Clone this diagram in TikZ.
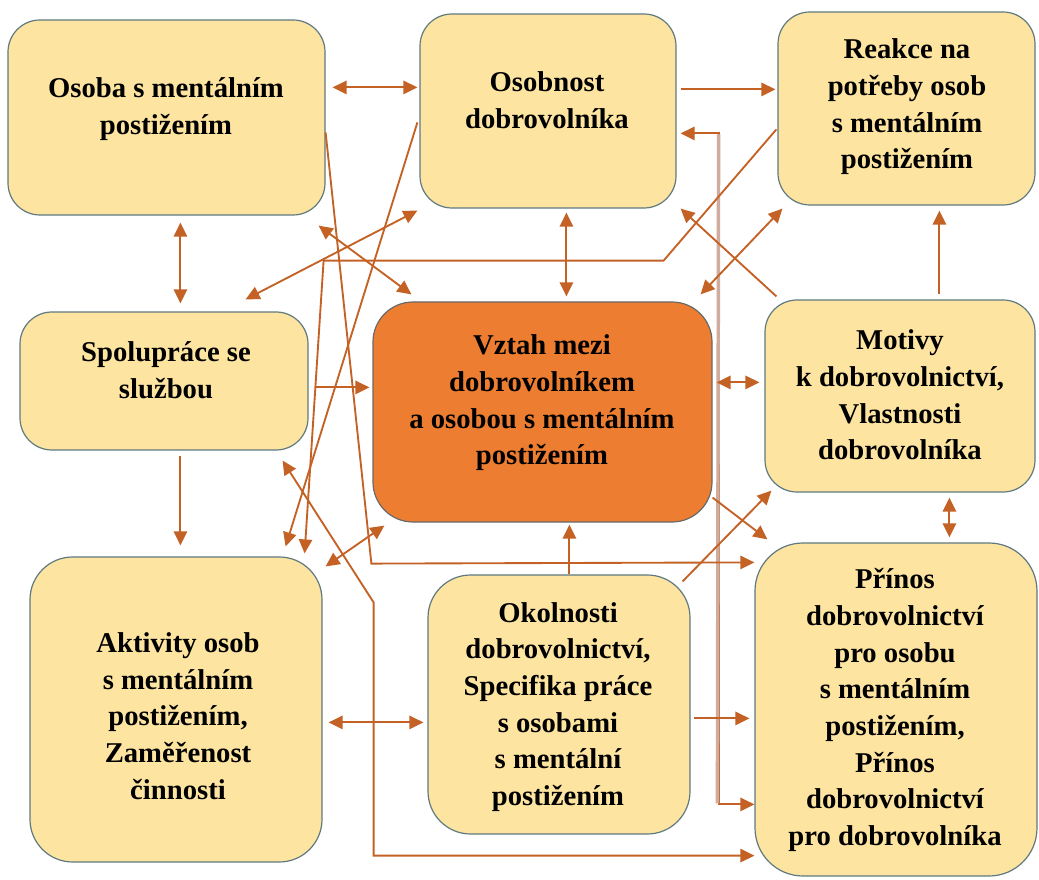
\documentclass[tikz,border=0pt]{standalone}
\usepackage{fontspec}
\newfontfamily\tnr{LiberationSerif}[Extension=.ttf, UprightFont=*-Regular, BoldFont=*-Bold]
\usetikzlibrary{arrows.meta,fit}
\definecolor{boxfill}{RGB}{253,228,160}
\definecolor{boxline}{RGB}{96,122,128}
\definecolor{corefill}{RGB}{237,125,49}
\definecolor{coreline}{RGB}{105,105,105}
\definecolor{conncol}{RGB}{196,98,38}
\definecolor{vlightcol}{RGB}{208,172,158}
\tikzset{
  box/.style={draw=boxline, fill=boxfill, line width=0.9pt, rounded corners=24pt, inner sep=0pt},
  core/.style={box, fill=corefill, draw=coreline, rounded corners=30pt},
  lbl/.style={font=\tnr\bfseries\fontsize{21.5}{27.5}\selectfont, align=center, text=black, inner sep=0pt},
  conn/.style={draw=conncol, line width=1.4pt},
  one/.style={conn, -{Triangle[length=10.5pt,width=10pt]}},
  two/.style={conn, {Triangle[length=10.5pt,width=10pt]}-{Triangle[length=10.5pt,width=10pt]}},
}
\begin{document}
\begin{tikzpicture}[x=0.75pt,y=-0.75pt]
\useasboundingbox (0,0) rectangle (1039,880);
\fill[white] (0,0) rectangle (1039,880);

% boxes
\node[box, fit={(8,20) (325,215)}] (osoba) {};
\node[box, fit={(420,14) (676,208)}] (osobnost) {};
\node[box, fit={(778,12) (1035,205)}] (reakce) {};
\node[box, fit={(20,312) (308,450)}] (spol) {};
\node[core, fit={(373,302) (712,522)}] (vztah) {};
\node[box, fit={(765,300) (1035,492)}] (motivy) {};
\node[box, rounded corners=32pt, fit={(30,557) (322,862)}] (aktivity) {};
\node[box, rounded corners=32pt, fit={(428,575) (690,834)}] (okol) {};
\node[box, rounded corners=36pt, fit={(755,543) (1037,876)}] (prinos) {};

% texts
\node[lbl] (osobaT) at (166,109) {Osoba s mentálním\\postižením};
\node[lbl] (osobnostT) at (547,100) {Osobnost\\dobrovolníka};
\node[lbl] (reakceT) at (907,107) {Reakce na\\potřeby osob\\s mentálním\\postižením};
\node[lbl] (spolT) at (166,370) {Spolupráce se\\službou};
\node[lbl] (vztahT) at (542,403) {Vztah mezi\\dobrovolníkem\\a osobou s mentálním\\postižením};
\node[lbl] (motivyT) at (900,395) {Motivy\\k dobrovolnictví,\\Vlastnosti\\dobrovolníka};
\node[lbl] (aktivityT) at (178,716) {Aktivity osob\\s mentálním\\postižením,\\Zaměřenost\\činnosti};
\begin{scope}
\clip (428,575) rectangle (690,812);
\node[lbl] (okolT) at (558,707) {Okolnosti\\dobrovolnictví,\\Specifika práce\\s osobami\\s mentální\\postižením};
\end{scope}
\node[lbl] (prinosT) at (895,710) {Přínos\\dobrovolnictví\\pro osobu\\s mentálním\\postižením,\\Přínos\\dobrovolnictví\\pro dobrovolníka};

% connectors
\draw[two] ([shift={(7,68)}]osoba.north east) -- ([shift={(-2,74)}]osobnost.north west);
\draw[one] ([shift={(4,76)}]osobnost.north east) -- ([shift={(-2,78)}]reakce.north west);
\draw[two] ([shift={(4,120)}]osobnost.north east) -- ++(38,0) |- ([shift={(0,262)}]prinos.north west);
\draw[draw=vlightcol, line width=2.6pt] ([shift={(42,121)}]osobnost.north east) -- ([shift={(-37,261)}]prinos.north west);
\draw[two] ([shift={(147,4)}]osobnost.south west) -- ([shift={(194,-5)}]vztah.north west);
\draw[two] ([shift={(173,7)}]osoba.south west) -- ([shift={(161,-8)}]spol.north west);
\draw[one] ([shift={(161,5)}]spol.south west) -- ([shift={(151,-11)}]aktivity.north west);
\draw[one] ([shift={(7,76)}]spol.north east) -- ([shift={(-3,86)}]vztah.north west);
\draw[two] ([shift={(4,81)}]vztah.north east) -- ([shift={(-5,83)}]motivy.north west);
\draw[one] ([shift={(175,-5)}]motivy.north west) -- ([shift={(162,5)}]reakce.south west);
\draw[two] ([shift={(185,5)}]motivy.south west) -- ([shift={(195,-5)}]prinos.north west);
\draw[one] ([shift={(142,0)}]okol.north west) -- ([shift={(197,2)}]vztah.south west);
\draw[two] ([shift={(6,166)}]aktivity.north east) -- ([shift={(-4,148)}]okol.north west);
\draw[one] ([shift={(3,144)}]okol.north east) -- ([shift={(-5,176)}]prinos.north west);
\draw[two] ([shift={(-26,10)}]spol.south east) -- ([shift={(51,46)}]aktivity.north east) |- ([shift={(0,-21)}]prinos.south west);
\draw[one] ([shift={(0,113)}]osoba.north east) -- ([shift={(-1,41)}]vztah.south west) -- ([shift={(0,20)}]prinos.north west);
\draw[one] ([shift={(-2,109)}]osobnost.north west) -- ([shift={(-37,-10)}]aktivity.north east);
\draw[one] ([shift={(-1,118)}]reakce.north west) -- ([shift={(-13,52)}]osobnost.south east) -- ([shift={(-2,45)}]osoba.south east) -- ([shift={(-18,-3)}]aktivity.north east);
\draw[two] ([shift={(-7,10)}]osoba.south east) -- ([shift={(39,-7)}]vztah.north west);
\draw[two] ([shift={(-63,-12)}]spol.north east) -- ([shift={(-2,2)}]osobnost.south west);
\draw[two] ([shift={(3,10)}]aktivity.north east) -- ([shift={(12,3)}]vztah.south west);
\draw[one] ([shift={(12,-3)}]motivy.north west) -- ([shift={(4,0)}]osobnost.south east);
\draw[two] ([shift={(5,3)}]reakce.south west) -- ([shift={(-12,-7)}]vztah.north east);
\draw[one] ([shift={(0,-25)}]vztah.south east) -- ([shift={(13,-3)}]prinos.north west);
\draw[one] ([shift={(-8,7)}]okol.north east) -- ([shift={(7,-2)}]motivy.south west);
\end{tikzpicture}
\end{document}
